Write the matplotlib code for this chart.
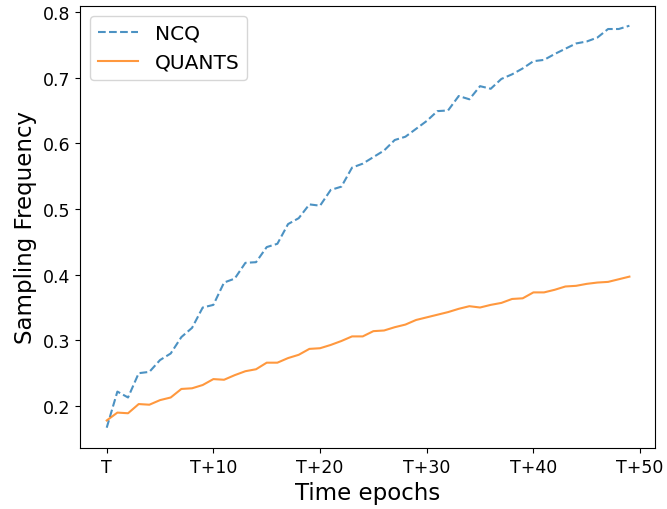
import matplotlib
matplotlib.use("Agg")
import matplotlib.pyplot as plt

epochs = list(range(50))

ncq = [0.167, 0.222, 0.213, 0.250, 0.252, 0.270, 0.280, 0.305, 0.319, 0.350,
       0.354, 0.388, 0.394, 0.418, 0.419, 0.442, 0.447, 0.477, 0.486, 0.507,
       0.505, 0.529, 0.534, 0.563, 0.569, 0.579, 0.589, 0.605, 0.610, 0.622,
       0.634, 0.649, 0.650, 0.672, 0.667, 0.687, 0.683, 0.698, 0.705, 0.714,
       0.725, 0.727, 0.736, 0.744, 0.752, 0.755, 0.761, 0.774, 0.774, 0.779]

quants = [0.178, 0.190, 0.189, 0.203, 0.202, 0.209, 0.213, 0.226, 0.227, 0.232,
          0.241, 0.240, 0.247, 0.253, 0.256, 0.266, 0.266, 0.273, 0.278, 0.287,
          0.288, 0.293, 0.299, 0.306, 0.306, 0.314, 0.315, 0.320, 0.324, 0.331,
          0.335, 0.339, 0.343, 0.348, 0.352, 0.350, 0.354, 0.357, 0.363, 0.364,
          0.373, 0.373, 0.377, 0.382, 0.383, 0.386, 0.388, 0.389, 0.393, 0.397]

tick_pos = [0, 10, 20, 30, 40, 50]
tick_labels = ["T", "T+10", "T+20", "T+30", "T+40", "T+50"]

fig = plt.figure(figsize=(6.67, 5.10), dpi=100)
ax = fig.add_axes([0.12, 0.12, 0.862, 0.867])

ax.plot(epochs, ncq, linestyle="--", color="#1f77b4", alpha=0.8, label="NCQ")
ax.plot(epochs, quants, linestyle="-", color="#ff7f0e", alpha=0.8, label="QUANTS")

# ticks at T, T+10, ... even though the data stops at T+49
ax.set_xticks(tick_pos)
ax.set_xticklabels(tick_labels)
ax.set_xlim(-2.5, 51.4)
ax.set_yticks([0.2, 0.3, 0.4, 0.5, 0.6, 0.7, 0.8])
ax.tick_params(labelsize=12.5)

ax.set_xlabel("Time epochs", fontsize=16.5)
ax.set_ylabel("Sampling Frequency", fontsize=16.5)
ax.legend(loc="upper left", fontsize=14.5)

fig.savefig("out.png", dpi=100)
